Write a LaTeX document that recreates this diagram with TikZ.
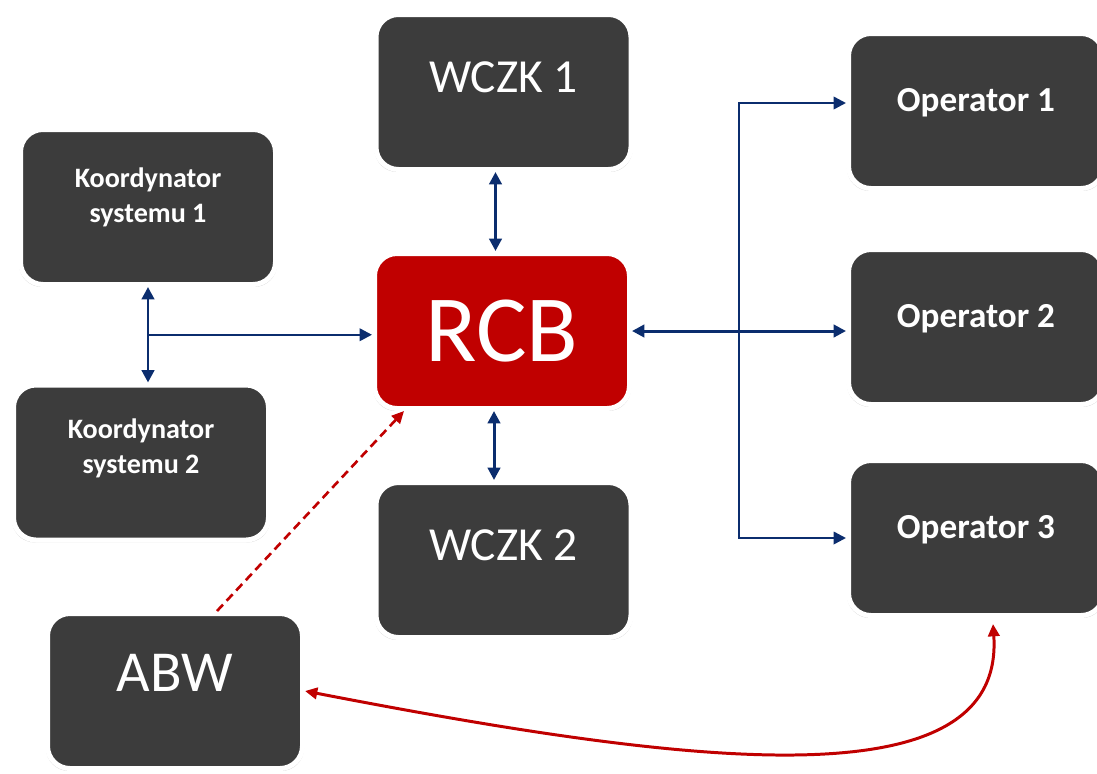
\documentclass[tikz,border=0pt]{standalone}
\usepackage{fontspec}
\setmainfont{Carlito}
\usetikzlibrary{arrows.meta,calc,shadows}

\definecolor{boxgray}{HTML}{3C3C3C}
\definecolor{rcbred}{HTML}{C00000}
\definecolor{linkblue}{HTML}{0B2D6E}
\definecolor{linkred}{HTML}{C00000}

\begin{document}
\begin{tikzpicture}[
  box/.style={rounded corners=0.45cm, fill=boxgray, draw=white, line width=0.1cm,
    minimum width=5.1cm, minimum height=3.1cm,
    drop shadow={fill=black!40, opacity=0.45, shadow xshift=0pt, shadow yshift=-0.03cm, shadow scale=1.012}},
  txt/.style={text=white, anchor=base, inner sep=0pt},
  kstxt/.style={text=white, align=center, inner sep=0pt,
    font=\bfseries\fontsize{16}{20}\selectfont},
  biarrow/.style={linkblue, line width=1.7pt,
    {Triangle[length=7pt,width=7pt]}-{Triangle[length=7pt,width=7pt]}},
  onearrow/.style={linkblue, line width=1.4pt, -{Triangle[length=7pt,width=7pt]}},
  redlink/.style={linkred, line width=1.7pt,
    {Triangle[length=7pt,width=6.5pt]}-{Triangle[length=7pt,width=6.5pt]}},
  reddash/.style={linkred, line width=1.5pt, dash pattern=on 5pt off 3pt,
    -{Triangle[length=7pt,width=6.5pt]}}
]
  \useasboundingbox (0,0) rectangle (21.94,-15.46);

  % boxes
  \node[box] (KS1) at (2.96,-4.14) {};
  \node[box] (KS2) at (2.82,-9.25) {};
  \node[box, fill=rcbred, text=white, font=\fontsize{54}{60}\selectfont] (RCB) at (10.04,-6.62) {RCB};
  \node[box] (W1) at (10.07,-1.84) {};
  \node[box] (W2) at (10.07,-11.2) {};
  \node[box] (O1) at (19.52,-2.22) {};
  \node[box] (O2) at (19.52,-6.54) {};
  \node[box] (O3) at (19.52,-10.76) {};
  \node[box] (ABW) at (3.5,-13.82) {};

  % texts
  \node[kstxt] (KS1t) at ([yshift=0.2cm]KS1.center) {Koordynator\\systemu 1};
  \node[kstxt] (KS2t) at ([yshift=0.28cm]KS2.center) {Koordynator\\systemu 2};
  \node[txt, font=\fontsize{27}{32}\selectfont] (W1t) at (W1.center) {WCZK 1};
  \node[txt, font=\fontsize{27}{32}\selectfont] (W2t) at (W2.center) {WCZK 2};
  \node[txt, font=\bfseries\fontsize{20}{24}\selectfont] (O1t) at (O1.center) {Operator 1};
  \node[txt, font=\bfseries\fontsize{20}{24}\selectfont] (O2t) at (O2.center) {Operator 2};
  \node[txt, font=\bfseries\fontsize{20}{24}\selectfont] (O3t) at (O3.center) {Operator 3};
  \node[txt, font=\fontsize{33}{38}\selectfont] (ABWt) at (ABW.center) {ABW};

  % blue links
  \draw[biarrow] (KS1.south) -- (KS1.south |- KS2.north);
  \coordinate (kjoin) at ($(KS1.south)!0.5!(KS1.south |- KS2.north)$);
  \draw[onearrow] (kjoin) -- (kjoin -| RCB.west);
  \draw[biarrow] ([xshift=-0.16cm]W1.south) -- ([xshift=-0.16cm]W1.south |- RCB.north);
  \draw[biarrow] ([xshift=-0.16cm]RCB.south) -- ([xshift=-0.16cm]RCB.south |- W2.north);
  \draw[biarrow] (RCB.east) -- (RCB.east -| O2.west);
  \coordinate (rjoin) at ($(RCB.east)!0.5!(RCB.east -| O2.west)$);
  \draw[onearrow] (rjoin) |- ([yshift=0.16cm]O1.west);
  \draw[onearrow] (rjoin) |- (O3.west);

  % red links
  \draw[reddash] ([xshift=0.84cm]ABW.north) -- ([xshift=0.64cm]RCB.south west);
  \draw[redlink] (ABW.east) .. controls (14,-15.35) and (20.1,-16.05) .. ([xshift=0.34cm,yshift=-0.12cm]O3.south);
\end{tikzpicture}
\end{document}
